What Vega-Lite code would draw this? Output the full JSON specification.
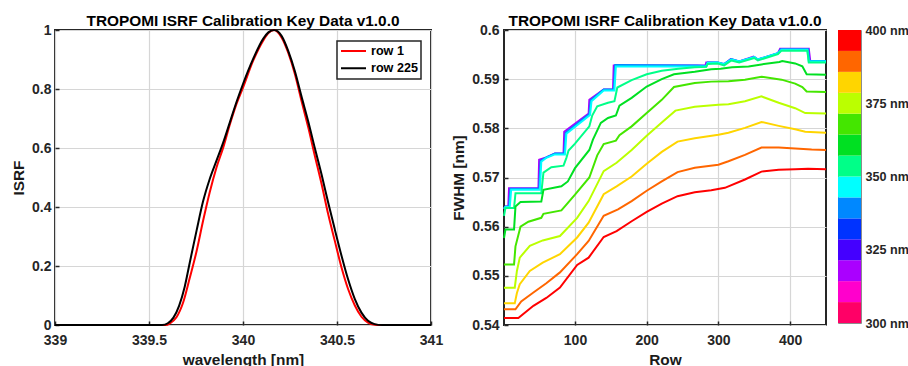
{
 "$schema": "https://vega.github.io/schema/vega-lite/v6.json",
 "background": "white",
 "padding": {"left": 10, "top": 12, "right": 0, "bottom": 0},
 "bounds": "flush",
 "spacing": 12,
 "resolve": {"scale": {"color": "independent"}, "legend": {"color": "independent"}},
 "config": {
  "font": "Liberation Sans",
  "view": {"stroke": "#262626", "strokeWidth": 2},
  "axis": {"labelFont": "Liberation Sans", "labelFontSize": 14, "labelFontWeight": "bold", "labelColor": "#262626", "titleFont": "Liberation Sans", "titleFontSize": 15.4, "titleFontWeight": "bold", "titleColor": "#1a1a1a", "ticks": true, "tickSize": -4, "tickColor": "#262626", "tickWidth": 1.5, "domain": false, "gridColor": "#d6d6d6", "gridWidth": 1.2, "labelFlush": false, "labelOverlap": false},
  "axisX": {"labelPadding": 12, "titlePadding": 5},
  "axisY": {"labelPadding": 8, "titlePadding": 5},
  "legend": {"strokeWidth": 1.5},
  "title": {"font": "Liberation Sans", "fontSize": 15.4, "fontWeight": "bold", "color": "#000000", "frame": "group", "baseline": "alphabetic", "offset": -6, "anchor": "middle"}
 },
 "hconcat": [
  {
   "width": 376, "height": 295,
   "title": "TROPOMI ISRF Calibration Key Data v1.0.0",
   "data": {"values": [
    {"series":"row 1","wl":339.0,"isrf":0},{"series":"row 1","wl":339.59,"isrf":0},{"series":"row 1","wl":339.61,"isrf":0.005},{"series":"row 1","wl":339.646,"isrf":0.026},{"series":"row 1","wl":339.682,"isrf":0.077},{"series":"row 1","wl":339.717,"isrf":0.16},{"series":"row 1","wl":339.753,"isrf":0.25},{"series":"row 1","wl":339.788,"isrf":0.354},{"series":"row 1","wl":339.823,"isrf":0.45},{"series":"row 1","wl":339.859,"isrf":0.534},{"series":"row 1","wl":339.895,"isrf":0.602},{"series":"row 1","wl":339.93,"isrf":0.68},{"series":"row 1","wl":339.965,"isrf":0.749},{"series":"row 1","wl":340.0,"isrf":0.805},{"series":"row 1","wl":340.054,"isrf":0.896},{"series":"row 1","wl":340.107,"isrf":0.964},{"series":"row 1","wl":340.135,"isrf":0.99},{"series":"row 1","wl":340.165,"isrf":1.0},{"series":"row 1","wl":340.205,"isrf":0.975},{"series":"row 1","wl":340.24,"isrf":0.924},{"series":"row 1","wl":340.276,"isrf":0.851},{"series":"row 1","wl":340.311,"isrf":0.76},{"series":"row 1","wl":340.347,"isrf":0.67},{"series":"row 1","wl":340.382,"isrf":0.574},{"series":"row 1","wl":340.418,"isrf":0.478},{"series":"row 1","wl":340.453,"isrf":0.376},{"series":"row 1","wl":340.488,"isrf":0.286},{"series":"row 1","wl":340.524,"isrf":0.195},{"series":"row 1","wl":340.559,"isrf":0.122},{"series":"row 1","wl":340.595,"isrf":0.066},{"series":"row 1","wl":340.63,"isrf":0.028},{"series":"row 1","wl":340.665,"isrf":0.008},{"series":"row 1","wl":340.7,"isrf":0.001},{"series":"row 1","wl":340.73,"isrf":0},{"series":"row 1","wl":341.0,"isrf":0},
    {"series":"row 225","wl":339.0,"isrf":0},{"series":"row 225","wl":339.57,"isrf":0},{"series":"row 225","wl":339.6,"isrf":0.006},{"series":"row 225","wl":339.63,"isrf":0.025},{"series":"row 225","wl":339.66,"isrf":0.065},{"series":"row 225","wl":339.69,"isrf":0.13},{"series":"row 225","wl":339.717,"isrf":0.212},{"series":"row 225","wl":339.753,"isrf":0.32},{"series":"row 225","wl":339.788,"isrf":0.42},{"series":"row 225","wl":339.823,"isrf":0.495},{"series":"row 225","wl":339.859,"isrf":0.557},{"series":"row 225","wl":339.895,"isrf":0.619},{"series":"row 225","wl":339.93,"isrf":0.687},{"series":"row 225","wl":339.965,"isrf":0.755},{"series":"row 225","wl":340.0,"isrf":0.817},{"series":"row 225","wl":340.054,"isrf":0.902},{"series":"row 225","wl":340.107,"isrf":0.97},{"series":"row 225","wl":340.135,"isrf":0.992},{"series":"row 225","wl":340.165,"isrf":1.0},{"series":"row 225","wl":340.205,"isrf":0.98},{"series":"row 225","wl":340.24,"isrf":0.93},{"series":"row 225","wl":340.276,"isrf":0.86},{"series":"row 225","wl":340.311,"isrf":0.775},{"series":"row 225","wl":340.347,"isrf":0.69},{"series":"row 225","wl":340.382,"isrf":0.6},{"series":"row 225","wl":340.418,"isrf":0.51},{"series":"row 225","wl":340.453,"isrf":0.415},{"series":"row 225","wl":340.488,"isrf":0.325},{"series":"row 225","wl":340.524,"isrf":0.235},{"series":"row 225","wl":340.559,"isrf":0.155},{"series":"row 225","wl":340.595,"isrf":0.088},{"series":"row 225","wl":340.63,"isrf":0.042},{"series":"row 225","wl":340.665,"isrf":0.014},{"series":"row 225","wl":340.7,"isrf":0.003},{"series":"row 225","wl":340.74,"isrf":0},{"series":"row 225","wl":341.0,"isrf":0}
   ]},
   "mark": {"type": "line", "strokeWidth": 2, "interpolate": "monotone"},
   "encoding": {
    "x": {"field": "wl", "type": "quantitative", "scale": {"domain": [339, 341], "nice": false, "zero": false}, "axis": {"values": [339, 339.5, 340, 340.5, 341], "format": ".1~f", "title": "wavelength [nm]"}},
    "y": {"field": "isrf", "type": "quantitative", "scale": {"domain": [0, 1], "nice": false}, "axis": {"values": [0, 0.2, 0.4, 0.6, 0.8, 1], "format": ".1~f", "title": "ISRF"}},
    "color": {"field": "series", "type": "nominal", "scale": {"domain": ["row 1", "row 225"], "range": ["#ff0000", "#000000"]},
     "legend": {"orient": "top-right", "offset": 10.5, "title": null, "strokeColor": "#262626", "fillColor": "white", "padding": 3, "symbolType": "stroke", "symbolSize": 625, "symbolStrokeWidth": 2, "clipHeight": 14, "labelFontSize": 12.6, "labelFontWeight": "bold", "labelColor": "#000000", "labelOffset": 4, "rowPadding": 3.3}}
   }
  },
  {
   "width": 49, "height": 295,
   "data": {"values": []},
   "mark": {"type": "point", "opacity": 0},
   "view": {"stroke": null}
  },
  {
   "width": 322, "height": 295,
   "title": "TROPOMI ISRF Calibration Key Data v1.0.0",
   "data": {"values": [
    {"wl":318,"row":1,"fwhm":0.5637},{"wl":318,"row":3,"fwhm":0.5641},{"wl":318,"row":7,"fwhm":0.5641},{"wl":318,"row":8,"fwhm":0.5678},{"wl":318,"row":49,"fwhm":0.5678},{"wl":318,"row":50,"fwhm":0.5736},{"wl":318,"row":60,"fwhm":0.5741},{"wl":318,"row":72,"fwhm":0.5749},{"wl":318,"row":84,"fwhm":0.5749},{"wl":318,"row":85,"fwhm":0.5793},{"wl":318,"row":119,"fwhm":0.583},{"wl":318,"row":120,"fwhm":0.5858},{"wl":318,"row":140,"fwhm":0.5879},{"wl":318,"row":153,"fwhm":0.5879},{"wl":318,"row":154,"fwhm":0.5928},{"wl":318,"row":282,"fwhm":0.5928},{"wl":318,"row":283,"fwhm":0.5934},{"wl":318,"row":299,"fwhm":0.5934},{"wl":318,"row":308,"fwhm":0.593},{"wl":318,"row":317,"fwhm":0.5941},{"wl":318,"row":329,"fwhm":0.5936},{"wl":318,"row":349,"fwhm":0.5946},{"wl":318,"row":355,"fwhm":0.594},{"wl":318,"row":383,"fwhm":0.5953},{"wl":318,"row":386,"fwhm":0.5962},{"wl":318,"row":426,"fwhm":0.5962},{"wl":318,"row":428,"fwhm":0.5937},{"wl":318,"row":450,"fwhm":0.5937},
    {"wl":339,"row":1,"fwhm":0.5637},{"wl":339,"row":3,"fwhm":0.5641},{"wl":339,"row":8,"fwhm":0.5641},{"wl":339,"row":10,"fwhm":0.5677},{"wl":339,"row":50,"fwhm":0.5677},{"wl":339,"row":52,"fwhm":0.5734},{"wl":339,"row":60,"fwhm":0.5741},{"wl":339,"row":72,"fwhm":0.5749},{"wl":339,"row":85,"fwhm":0.5749},{"wl":339,"row":87,"fwhm":0.5791},{"wl":339,"row":120,"fwhm":0.5829},{"wl":339,"row":122,"fwhm":0.5857},{"wl":339,"row":140,"fwhm":0.5879},{"wl":339,"row":154,"fwhm":0.5879},{"wl":339,"row":156,"fwhm":0.5929},{"wl":339,"row":270,"fwhm":0.5928},{"wl":339,"row":283,"fwhm":0.5927},{"wl":339,"row":285,"fwhm":0.5934},{"wl":339,"row":299,"fwhm":0.5934},{"wl":339,"row":308,"fwhm":0.5931},{"wl":339,"row":318,"fwhm":0.5941},{"wl":339,"row":329,"fwhm":0.5936},{"wl":339,"row":350,"fwhm":0.5945},{"wl":339,"row":355,"fwhm":0.594},{"wl":339,"row":383,"fwhm":0.5953},{"wl":339,"row":387,"fwhm":0.5961},{"wl":339,"row":425,"fwhm":0.5961},{"wl":339,"row":427,"fwhm":0.5937},{"wl":339,"row":450,"fwhm":0.5937},
    {"wl":346,"row":1,"fwhm":0.5636},{"wl":346,"row":3,"fwhm":0.564},{"wl":346,"row":9,"fwhm":0.564},{"wl":346,"row":11,"fwhm":0.5675},{"wl":346,"row":51,"fwhm":0.5675},{"wl":346,"row":53,"fwhm":0.5732},{"wl":346,"row":60,"fwhm":0.574},{"wl":346,"row":72,"fwhm":0.5747},{"wl":346,"row":86,"fwhm":0.5747},{"wl":346,"row":88,"fwhm":0.5789},{"wl":346,"row":121,"fwhm":0.5827},{"wl":346,"row":123,"fwhm":0.5855},{"wl":346,"row":140,"fwhm":0.5877},{"wl":346,"row":155,"fwhm":0.5877},{"wl":346,"row":157,"fwhm":0.5926},{"wl":346,"row":283,"fwhm":0.5926},{"wl":346,"row":285,"fwhm":0.5933},{"wl":346,"row":299,"fwhm":0.5934},{"wl":346,"row":308,"fwhm":0.593},{"wl":346,"row":318,"fwhm":0.594},{"wl":346,"row":329,"fwhm":0.5936},{"wl":346,"row":350,"fwhm":0.5945},{"wl":346,"row":355,"fwhm":0.594},{"wl":346,"row":383,"fwhm":0.5953},{"wl":346,"row":388,"fwhm":0.596},{"wl":346,"row":424,"fwhm":0.596},{"wl":346,"row":426,"fwhm":0.5936},{"wl":346,"row":450,"fwhm":0.5936},
    {"wl":353,"row":1,"fwhm":0.5622},{"wl":353,"row":3,"fwhm":0.5638},{"wl":353,"row":15,"fwhm":0.5638},{"wl":353,"row":17,"fwhm":0.5668},{"wl":353,"row":53,"fwhm":0.5668},{"wl":353,"row":56,"fwhm":0.571},{"wl":353,"row":67,"fwhm":0.5721},{"wl":353,"row":84,"fwhm":0.5724},{"wl":353,"row":88,"fwhm":0.574},{"wl":353,"row":91,"fwhm":0.5755},{"wl":353,"row":100,"fwhm":0.5769},{"wl":353,"row":120,"fwhm":0.5804},{"wl":353,"row":124,"fwhm":0.5826},{"wl":353,"row":131,"fwhm":0.5845},{"wl":353,"row":146,"fwhm":0.5852},{"wl":353,"row":155,"fwhm":0.5855},{"wl":353,"row":159,"fwhm":0.5883},{"wl":353,"row":179,"fwhm":0.5898},{"wl":353,"row":200,"fwhm":0.591},{"wl":353,"row":221,"fwhm":0.5917},{"wl":353,"row":244,"fwhm":0.5921},{"wl":353,"row":267,"fwhm":0.5924},{"wl":353,"row":283,"fwhm":0.5925},{"wl":353,"row":285,"fwhm":0.5931},{"wl":353,"row":299,"fwhm":0.5932},{"wl":353,"row":308,"fwhm":0.5928},{"wl":353,"row":318,"fwhm":0.5938},{"wl":353,"row":329,"fwhm":0.5934},{"wl":353,"row":350,"fwhm":0.5943},{"wl":353,"row":355,"fwhm":0.5938},{"wl":353,"row":383,"fwhm":0.5951},{"wl":353,"row":388,"fwhm":0.5958},{"wl":353,"row":424,"fwhm":0.5958},{"wl":353,"row":426,"fwhm":0.5934},{"wl":353,"row":450,"fwhm":0.5934},
    {"wl":360,"row":1,"fwhm":0.5577},{"wl":360,"row":3,"fwhm":0.5594},{"wl":360,"row":15,"fwhm":0.5594},{"wl":360,"row":17,"fwhm":0.5641},{"wl":360,"row":24,"fwhm":0.565},{"wl":360,"row":53,"fwhm":0.5651},{"wl":360,"row":56,"fwhm":0.5675},{"wl":360,"row":81,"fwhm":0.5682},{"wl":360,"row":90,"fwhm":0.5692},{"wl":360,"row":100,"fwhm":0.5719},{"wl":360,"row":120,"fwhm":0.5756},{"wl":360,"row":125,"fwhm":0.5777},{"wl":360,"row":136,"fwhm":0.5811},{"wl":360,"row":146,"fwhm":0.5821},{"wl":360,"row":157,"fwhm":0.5826},{"wl":360,"row":162,"fwhm":0.5846},{"wl":360,"row":179,"fwhm":0.5862},{"wl":360,"row":200,"fwhm":0.5885},{"wl":360,"row":221,"fwhm":0.59},{"wl":360,"row":238,"fwhm":0.591},{"wl":360,"row":267,"fwhm":0.5915},{"wl":360,"row":290,"fwhm":0.592},{"wl":360,"row":303,"fwhm":0.5921},{"wl":360,"row":319,"fwhm":0.5924},{"wl":360,"row":342,"fwhm":0.5926},{"wl":360,"row":360,"fwhm":0.593},{"wl":360,"row":385,"fwhm":0.5935},{"wl":360,"row":389,"fwhm":0.5937},{"wl":360,"row":407,"fwhm":0.5932},{"wl":360,"row":417,"fwhm":0.5926},{"wl":360,"row":423,"fwhm":0.591},{"wl":360,"row":450,"fwhm":0.5909},
    {"wl":368,"row":1,"fwhm":0.5523},{"wl":368,"row":15,"fwhm":0.5523},{"wl":368,"row":17,"fwhm":0.556},{"wl":368,"row":24,"fwhm":0.56},{"wl":368,"row":35,"fwhm":0.561},{"wl":368,"row":53,"fwhm":0.5618},{"wl":368,"row":56,"fwhm":0.5626},{"wl":368,"row":81,"fwhm":0.5633},{"wl":368,"row":88,"fwhm":0.5645},{"wl":368,"row":100,"fwhm":0.5665},{"wl":368,"row":120,"fwhm":0.57},{"wl":368,"row":131,"fwhm":0.5745},{"wl":368,"row":140,"fwhm":0.5768},{"wl":368,"row":157,"fwhm":0.5775},{"wl":368,"row":162,"fwhm":0.5786},{"wl":368,"row":179,"fwhm":0.5804},{"wl":368,"row":200,"fwhm":0.5831},{"wl":368,"row":221,"fwhm":0.5858},{"wl":368,"row":238,"fwhm":0.5884},{"wl":368,"row":267,"fwhm":0.5892},{"wl":368,"row":290,"fwhm":0.5895},{"wl":368,"row":314,"fwhm":0.5896},{"wl":368,"row":337,"fwhm":0.5899},{"wl":368,"row":360,"fwhm":0.5905},{"wl":368,"row":388,"fwhm":0.5899},{"wl":368,"row":407,"fwhm":0.5891},{"wl":368,"row":417,"fwhm":0.5884},{"wl":368,"row":423,"fwhm":0.5875},{"wl":368,"row":450,"fwhm":0.5874},
    {"wl":375,"row":1,"fwhm":0.5476},{"wl":375,"row":16,"fwhm":0.5476},{"wl":375,"row":19,"fwhm":0.551},{"wl":375,"row":23,"fwhm":0.5537},{"wl":375,"row":37,"fwhm":0.5561},{"wl":375,"row":55,"fwhm":0.5572},{"wl":375,"row":79,"fwhm":0.5581},{"wl":375,"row":103,"fwhm":0.5618},{"wl":375,"row":119,"fwhm":0.5652},{"wl":375,"row":140,"fwhm":0.5713},{"wl":375,"row":158,"fwhm":0.573},{"wl":375,"row":179,"fwhm":0.5756},{"wl":375,"row":200,"fwhm":0.5785},{"wl":375,"row":221,"fwhm":0.5812},{"wl":375,"row":240,"fwhm":0.5836},{"wl":375,"row":267,"fwhm":0.5844},{"wl":375,"row":300,"fwhm":0.5848},{"wl":375,"row":314,"fwhm":0.5849},{"wl":375,"row":337,"fwhm":0.5855},{"wl":375,"row":360,"fwhm":0.5865},{"wl":375,"row":384,"fwhm":0.5852},{"wl":375,"row":407,"fwhm":0.5841},{"wl":375,"row":421,"fwhm":0.5831},{"wl":375,"row":450,"fwhm":0.583},
    {"wl":383,"row":1,"fwhm":0.5444},{"wl":383,"row":16,"fwhm":0.5444},{"wl":383,"row":19,"fwhm":0.5465},{"wl":383,"row":23,"fwhm":0.5483},{"wl":383,"row":37,"fwhm":0.551},{"wl":383,"row":55,"fwhm":0.5527},{"wl":383,"row":79,"fwhm":0.5544},{"wl":383,"row":103,"fwhm":0.5578},{"wl":383,"row":119,"fwhm":0.5608},{"wl":383,"row":140,"fwhm":0.5666},{"wl":383,"row":158,"fwhm":0.5682},{"wl":383,"row":179,"fwhm":0.5702},{"wl":383,"row":200,"fwhm":0.5728},{"wl":383,"row":221,"fwhm":0.5752},{"wl":383,"row":243,"fwhm":0.5773},{"wl":383,"row":267,"fwhm":0.578},{"wl":383,"row":300,"fwhm":0.5787},{"wl":383,"row":314,"fwhm":0.5791},{"wl":383,"row":337,"fwhm":0.5801},{"wl":383,"row":360,"fwhm":0.5813},{"wl":383,"row":384,"fwhm":0.5805},{"wl":383,"row":407,"fwhm":0.5798},{"wl":383,"row":421,"fwhm":0.5793},{"wl":383,"row":450,"fwhm":0.5791},
    {"wl":390,"row":1,"fwhm":0.5432},{"wl":390,"row":17,"fwhm":0.5432},{"wl":390,"row":25,"fwhm":0.5448},{"wl":390,"row":42,"fwhm":0.5466},{"wl":390,"row":60,"fwhm":0.5485},{"wl":390,"row":79,"fwhm":0.5507},{"wl":390,"row":103,"fwhm":0.5544},{"wl":390,"row":119,"fwhm":0.5571},{"wl":390,"row":140,"fwhm":0.5622},{"wl":390,"row":160,"fwhm":0.5635},{"wl":390,"row":179,"fwhm":0.5652},{"wl":390,"row":200,"fwhm":0.5673},{"wl":390,"row":221,"fwhm":0.5692},{"wl":390,"row":243,"fwhm":0.5711},{"wl":390,"row":267,"fwhm":0.572},{"wl":390,"row":300,"fwhm":0.5726},{"wl":390,"row":314,"fwhm":0.5733},{"wl":390,"row":337,"fwhm":0.5746},{"wl":390,"row":360,"fwhm":0.5761},{"wl":390,"row":384,"fwhm":0.5761},{"wl":390,"row":407,"fwhm":0.5759},{"wl":390,"row":430,"fwhm":0.5757},{"wl":390,"row":450,"fwhm":0.5756},
    {"wl":400,"row":1,"fwhm":0.5414},{"wl":400,"row":21,"fwhm":0.5414},{"wl":400,"row":42,"fwhm":0.5439},{"wl":400,"row":60,"fwhm":0.5455},{"wl":400,"row":79,"fwhm":0.5476},{"wl":400,"row":103,"fwhm":0.5522},{"wl":400,"row":119,"fwhm":0.5537},{"wl":400,"row":140,"fwhm":0.5579},{"wl":400,"row":158,"fwhm":0.5591},{"wl":400,"row":179,"fwhm":0.5611},{"wl":400,"row":200,"fwhm":0.563},{"wl":400,"row":221,"fwhm":0.5647},{"wl":400,"row":243,"fwhm":0.5662},{"wl":400,"row":267,"fwhm":0.567},{"wl":400,"row":290,"fwhm":0.5674},{"wl":400,"row":309,"fwhm":0.5679},{"wl":400,"row":337,"fwhm":0.5696},{"wl":400,"row":360,"fwhm":0.5712},{"wl":400,"row":384,"fwhm":0.5716},{"wl":400,"row":407,"fwhm":0.5717},{"wl":400,"row":425,"fwhm":0.5718},{"wl":400,"row":450,"fwhm":0.5717}
   ]},
   "mark": {"type": "line", "strokeWidth": 2},
   "encoding": {
    "x": {"field": "row", "type": "quantitative", "scale": {"domain": [1, 450], "nice": false, "zero": false}, "axis": {"values": [100, 200, 300, 400], "title": "Row"}},
    "y": {"field": "fwhm", "type": "quantitative", "scale": {"domain": [0.54, 0.6], "nice": false, "zero": false}, "axis": {"values": [0.54, 0.55, 0.56, 0.57, 0.58, 0.59, 0.6], "format": ".2~f", "title": "FWHM [nm]", "labelPadding": 9}},
    "color": {"field": "wl", "type": "quantitative", "scale": {"type": "quantize", "domain": [300, 400], "nice": false, "zero": false, "range": ["#ff0066", "#ff00cc", "#aa00ff", "#4400ff", "#0033ff", "#0088ff", "#00ffff", "#00ff88", "#00e022", "#44e600", "#bbff00", "#ffd500", "#ff6600", "#ff0000"]}, "legend": null},
    "detail": {"field": "wl", "type": "nominal"}
   }
  },
  {
   "width": 23, "height": 293,
   "view": {"stroke": "#8c8c8c", "strokeWidth": 1},
   "data": {"values": [
    {"lo":300,"hi":307.14,"mid":303.57},{"lo":307.14,"hi":314.29,"mid":310.71},{"lo":314.29,"hi":321.43,"mid":317.86},{"lo":321.43,"hi":328.57,"mid":325},{"lo":328.57,"hi":335.71,"mid":332.14},{"lo":335.71,"hi":342.86,"mid":339.29},{"lo":342.86,"hi":350,"mid":346.43},{"lo":350,"hi":357.14,"mid":353.57},{"lo":357.14,"hi":364.29,"mid":360.71},{"lo":364.29,"hi":371.43,"mid":367.86},{"lo":371.43,"hi":378.57,"mid":375},{"lo":378.57,"hi":385.71,"mid":382.14},{"lo":385.71,"hi":392.86,"mid":389.29},{"lo":392.86,"hi":400,"mid":396.43}
   ]},
   "mark": {"type": "rect"},
   "encoding": {
    "y": {"field": "lo", "type": "quantitative", "scale": {"domain": [300, 400], "nice": false, "zero": false}, "axis": {"orient": "right", "values": [300, 325, 350, 375, 400], "labelExpr": "datum.value + ' nm'", "title": null, "grid": false, "ticks": false, "labelFontSize": 12.6, "labelPadding": 4}},
    "y2": {"field": "hi"},
    "color": {"field": "mid", "type": "quantitative", "scale": {"type": "quantize", "domain": [300, 400], "nice": false, "zero": false, "range": ["#ff0066", "#ff00cc", "#aa00ff", "#4400ff", "#0033ff", "#0088ff", "#00ffff", "#00ff88", "#00e022", "#44e600", "#bbff00", "#ffd500", "#ff6600", "#ff0000"]}, "legend": null}
   }
  }
 ]
}
